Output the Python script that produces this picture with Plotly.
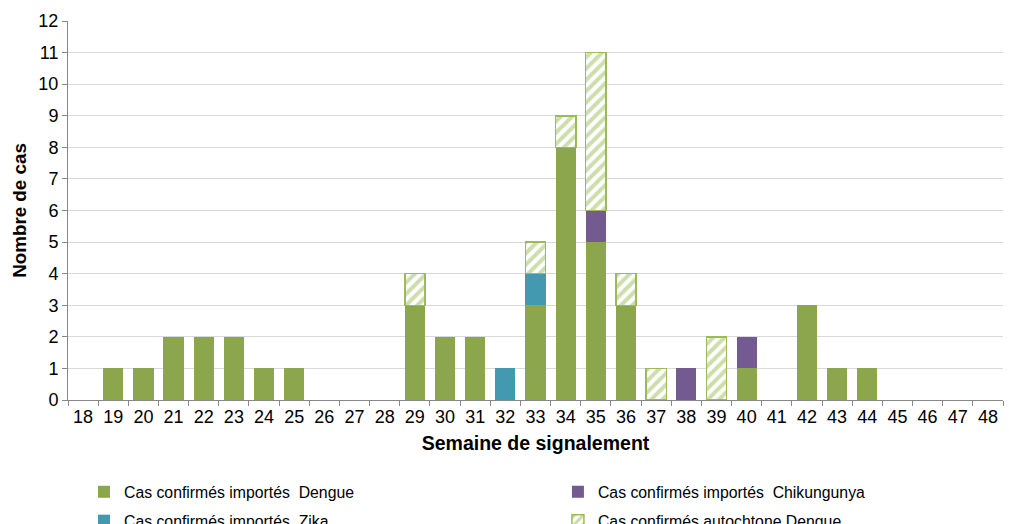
import plotly.graph_objects as go

weeks = [str(w) for w in range(18, 49)]
dengue_import = [0,1,1,2,2,2,1,1,0,0,0,3,2,2,0,3,8,5,3,0,0,0,1,0,3,1,1,0,0,0,0]
zika_import   = [0,0,0,0,0,0,0,0,0,0,0,0,0,0,1,1,0,0,0,0,0,0,0,0,0,0,0,0,0,0,0]
chik_import   = [0,0,0,0,0,0,0,0,0,0,0,0,0,0,0,0,0,1,0,0,1,0,1,0,0,0,0,0,0,0,0]
dengue_auto   = [0,0,0,0,0,0,0,0,0,0,0,1,0,0,0,1,1,5,1,1,0,2,0,0,0,0,0,0,0,0,0]

GREEN = "#8BA64D"
TEAL = "#4399B0"
PURPLE = "#735A91"
LGREEN = "#9BBB59"

def nz(vals):
    return [v if v else None for v in vals]

fig = go.Figure()
fig.add_bar(x=weeks, y=nz(dengue_import), name="Cas confirmés importés  Dengue",
            marker=dict(color=GREEN, line=dict(width=0)), legend="legend")
fig.add_bar(x=weeks, y=nz(zika_import), name="Cas confirmés importés  Zika",
            marker=dict(color=TEAL, line=dict(width=0)), legend="legend2")
fig.add_bar(x=weeks, y=nz(chik_import), name="Cas confirmés importés  Chikungunya",
            marker=dict(color=PURPLE, line=dict(width=0)), legend="legend3")
fig.add_bar(x=weeks, y=nz(dengue_auto), name="Cas confirmés autochtone Dengue",
            marker=dict(color="white", line=dict(color=LGREEN, width=1.5),
                        pattern=dict(shape="/", fgcolor=LGREEN, bgcolor="white",
                                     size=8, solidity=0.5)),
            legend="legend4")

legend_common = dict(orientation="v", xanchor="left", yanchor="middle",
                     font=dict(family="Liberation Sans", size=15.8, color="#000"),
                     bgcolor="rgba(0,0,0,0)", itemwidth=30)

row1, row2 = -0.2427, -0.319
col1, col2 = 0.0171, 0.524

fig.update_layout(
    width=1009, height=524,
    barmode="stack", bargap=0.33,
    plot_bgcolor="white", paper_bgcolor="white",
    margin=dict(l=68, r=6, t=21, b=124, autoexpand=False),
    font=dict(family="Liberation Sans", color="#000"),
    showlegend=True,
    legend=dict(x=col1, y=row1, **legend_common),
    legend2=dict(x=col1, y=row2, **legend_common),
    legend3=dict(x=col2, y=row1, **legend_common),
    legend4=dict(x=col2, y=row2, **legend_common),
    xaxis=dict(type="category", tickson="boundaries", ticks="outside", ticklen=5,
               tickcolor="#888", showline=True, linecolor="#888", linewidth=1,
               tickfont=dict(size=18), showgrid=False, automargin=False,
               title=dict(text="<b>Semaine de signalement</b>", font=dict(size=19.5), standoff=10)),
    yaxis=dict(range=[0, 12], dtick=1, ticks="outside", ticklen=5, tickcolor="#888",
               showline=True, linecolor="#888", linewidth=1,
               gridcolor="#D9D9D9", gridwidth=1, zeroline=False, automargin=False,
               tickfont=dict(size=18),
               title=dict(text="<b>Nombre de cas</b>", font=dict(size=18.8), standoff=6)),
)

fig.write_html("out.html", config={"displayModeBar": False},
               post_script="document.body.style.margin='0';")
